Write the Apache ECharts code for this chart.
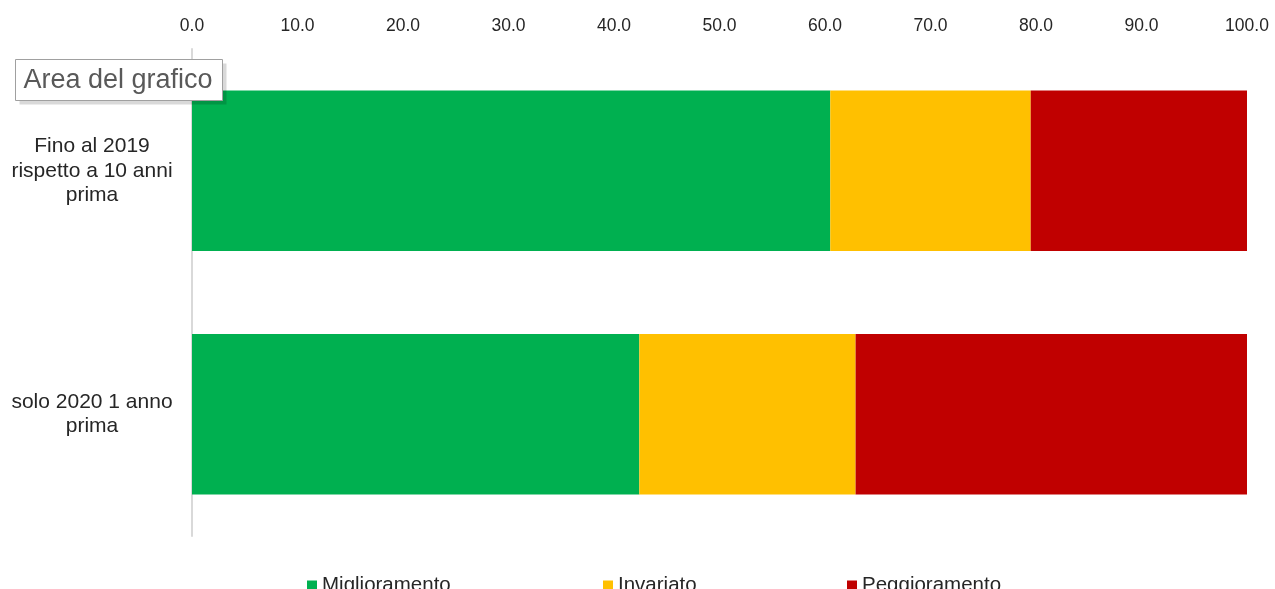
<!DOCTYPE html>
<html>
<head>
<meta charset="utf-8">
<script src="https://cdn.jsdelivr.net/npm/echarts@6/dist/echarts.min.js"></script>
<style>html,body{margin:0;padding:0;background:#fff}#c{width:1275px;height:589px}</style>
</head>
<body>
<div id="c"></div>
<script>
const categories = ['Fino al 2019\nrispetto a 10 anni\nprima', 'solo 2020 1 anno\nprima'];
const miglioramento = [60.5, 42.4];
const invariato = [19.0, 20.5];
const peggioramento = [20.5, 37.1];
const seriesNames = ['Miglioramento', 'Invariato', 'Peggioramento'];
const colors = ['#00B050', '#FFC000', '#C00000'];

const chart = echarts.init(document.getElementById('c'));
const legendFont = { fontFamily: '"Liberation Sans Narrow", "Arial Narrow", "Liberation Sans", Arial', fontSize: 20.5, color: '#262626' };
function mkLegend(name, left) {
  return { data: [name], left: left, top: 570, itemWidth: 10, itemHeight: 10, itemGap: 5, icon: 'rect', textStyle: legendFont, selectedMode: false };
}
chart.setOption({
  animation: false,
  legend: [mkLegend(seriesNames[0], 302), mkLegend(seriesNames[1], 598), mkLegend(seriesNames[2], 842)],
  grid: { left: 192, right: 28, top: 49, height: 487, containLabel: false },
  xAxis: {
    type: 'value', position: 'top', min: 0, max: 100, interval: 10,
    axisLabel: { formatter: v => v.toFixed(1), fontFamily: '"Liberation Sans", Arial', fontSize: 17.5, color: '#262626', margin: 14 },
    axisLine: { show: false }, axisTick: { show: false }, splitLine: { show: false }
  },
  yAxis: {
    type: 'category', inverse: true, data: categories,
    axisLine: { show: true, lineStyle: { color: '#d9d9d9', width: 2 } },
    axisTick: { show: false },
    axisLabel: { fontFamily: '"Liberation Sans", Arial', fontSize: 21, color: '#262626', align: 'center', margin: 100, lineHeight: 24.5 }
  },
  series: [miglioramento, invariato, peggioramento].map((d, i) => ({
    name: seriesNames[i], type: 'bar', stack: 'tot', data: d, barCategoryGap: '34%',
    itemStyle: { color: colors[i] }
  })),
  graphic: [{
    type: 'group', left: 15, top: 59, z: 100, children: [
      { type: 'rect', z: 100, shape: { x: 4, y: 4, width: 207, height: 41 }, style: { fill: 'rgba(0,0,0,0.15)' } },
      { type: 'rect', z: 101, shape: { x: 0, y: 0, width: 207, height: 41 }, style: { fill: '#fff', stroke: '#a0a0a0', lineWidth: 1 } },
      { type: 'text', z: 102, x: 8, y: 8, style: { text: 'Area del grafico', font: '27px "Liberation Sans", Arial', fill: '#595959' } }
    ]
  }]
});
</script>
</body>
</html>
